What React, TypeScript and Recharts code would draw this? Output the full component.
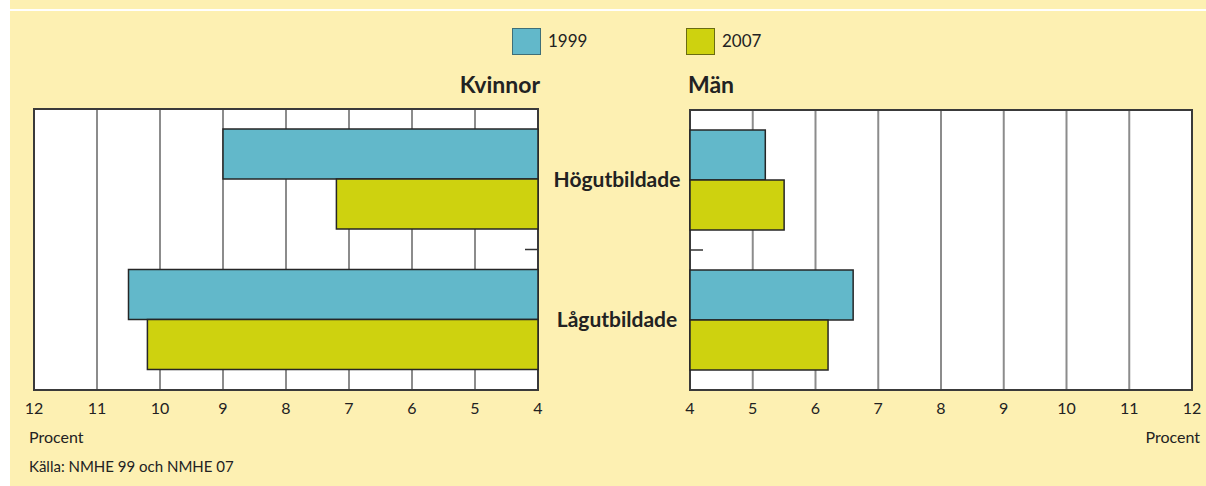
import { BarChart, Bar, XAxis, YAxis, CartesianGrid, ReferenceArea } from 'recharts'

const CATEGORIES = ['Högutbildade', 'Lågutbildade']
const KVINNOR_1999 = [9.0, 10.5]
const KVINNOR_2007 = [7.2, 10.2]
const MAN_1999 = [5.2, 6.6]
const MAN_2007 = [5.5, 6.2]
const X_TICKS = [4, 5, 6, 7, 8, 9, 10, 11, 12]
const SERIES = [
  { key: 'y1999', name: '1999', color: '#62B8CA', border: '#3f6f78' },
  { key: 'y2007', name: '2007', color: '#CED20F', border: '#6a6c12' },
]

const kvinnorData = CATEGORIES.map((c, i) => ({ cat: c, y1999: KVINNOR_1999[i], y2007: KVINNOR_2007[i] }))
const manData = CATEGORIES.map((c, i) => ({ cat: c, y1999: MAN_1999[i], y2007: MAN_2007[i] }))

const BG = '#FDF0B2'
const FONT = 'Lato, "Open Sans", sans-serif'

// category tick: label (right panel only) + small tick mark at the boundary between categories
function CategoryTick(props: any) {
  const { x, y, payload, index, showLabel, dir } = props
  const half = payload && payload.offset ? payload.offset : 0
  return (
    <g>
      {showLabel && (
        <text x={x - 73} y={y} dy={7} textAnchor="middle" fontSize={21} fontWeight={700} fill="#222">
          {payload.value}
        </text>
      )}
      {index === 0 && half > 0 && (
        <line x1={x} x2={x + dir * 13} y1={y + half} y2={y + half} stroke="#333" strokeWidth={1.5} />
      )}
    </g>
  )
}

function Panel({ data, reversed, side }: { data: any[]; reversed: boolean; side: 'left' | 'right' }) {
  const left = side === 'left'
  return (
    <BarChart
      width={left ? 545 : 666}
      height={440}
      data={data}
      layout="vertical"
      barCategoryGap={20}
      barGap={0}
      margin={left ? { top: 109, right: 5, bottom: 20, left: 34 } : { top: 110, right: 14, bottom: 20, left: 0 }}
    >
      <CartesianGrid horizontal={false} stroke="#8c8c8c" strokeWidth={2} fill="#fff" fillOpacity={1} />
      <XAxis
        type="number"
        domain={[4, 12]}
        ticks={X_TICKS}
        reversed={reversed}
        axisLine={false}
        tickLine={false}
        tickMargin={7}
        height={30}
        interval={0}
        tick={{ fontSize: 16, fill: '#222' }}
      />
      <YAxis
        type="category"
        dataKey="cat"
        orientation={left ? 'right' : 'left'}
        width={left ? 2 : 150}
        axisLine={false}
        tickLine={false}
        tickSize={0}
        tickMargin={0}
        interval={0}
        tick={<CategoryTick showLabel={!left} dir={left ? -1 : 1} />}
      />
      {SERIES.map((s) => (
        <Bar key={s.key} dataKey={s.key} name={s.name} fill={s.color} stroke="#262626" strokeWidth={1.5} isAnimationActive={false} />
      ))}
      <ReferenceArea x1={4} x2={12} fill="none" stroke="#3a3a3a" strokeWidth={2} />
    </BarChart>
  )
}

export default function App() {
  return (
    <div style={{ position: 'absolute', left: 0, top: 0, width: 1206, height: 486, background: '#fff', fontFamily: FONT, color: '#222' }}>
      <div style={{ position: 'absolute', left: 10, top: 0, width: 1196, height: 486, background: BG }} />
      <div style={{ position: 'absolute', left: 10, top: 9, width: 1196, height: 2, background: '#fff' }} />

      {SERIES.map((s, i) => (
        <div key={s.key} style={{ position: 'absolute', left: i === 0 ? 512 : 686, top: 28 }}>
          <div style={{ position: 'absolute', left: 0, top: 0, width: 27, height: 25, background: s.color, border: `1.5px solid ${s.border}` }} />
          <div style={{ position: 'absolute', left: 36, top: 2, fontSize: 17, lineHeight: '22px', whiteSpace: 'nowrap' }}>{s.name}</div>
        </div>
      ))}

      <div style={{ position: 'absolute', right: 1206 - 540, top: 70, fontSize: 23, fontWeight: 700, lineHeight: '28px' }}>Kvinnor</div>
      <div style={{ position: 'absolute', left: 688, top: 70, fontSize: 23, fontWeight: 700, lineHeight: '28px' }}>Män</div>

      <div style={{ position: 'absolute', left: 0, top: 0 }}>
        <Panel data={kvinnorData} reversed side="left" />
      </div>
      <div style={{ position: 'absolute', left: 540, top: 0 }}>
        <Panel data={manData} reversed={false} side="right" />
      </div>

      <div style={{ position: 'absolute', left: 29, top: 427, fontSize: 16, lineHeight: '20px' }}>Procent</div>
      <div style={{ position: 'absolute', right: 6, top: 427, fontSize: 16, lineHeight: '20px' }}>Procent</div>
      <div style={{ position: 'absolute', left: 29, top: 457, fontSize: 15, lineHeight: '18px' }}>Källa: NMHE 99 och NMHE 07</div>
    </div>
  )
}
